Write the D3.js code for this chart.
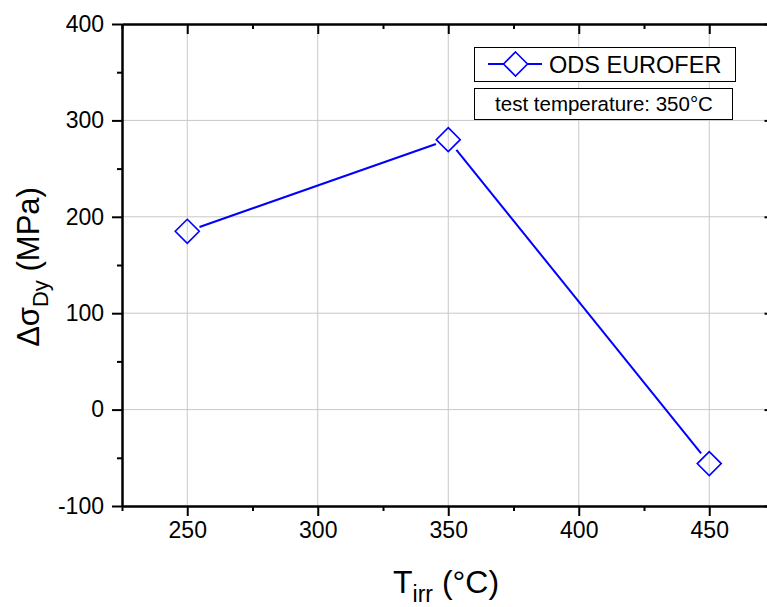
<!DOCTYPE html>
<html>
<head>
<meta charset="utf-8">
<script src="https://cdn.jsdelivr.net/npm/d3@7/dist/d3.min.js"></script>
<style>
  html, body { margin: 0; padding: 0; background: #fff; }
  svg { display: block; }
  text { font-family: "Liberation Sans", Arial, sans-serif; fill: #000; }
</style>
</head>
<body>
<svg id="chart" width="767" height="607"></svg>
<script>
// Irradiation temperature (°C) and yield stress increase (MPa)
const tIrr = [250, 350, 450];
const deltaSigma = [185, 280, -56];
const seriesName = "ODS EUROFER";
const noteText = "test temperature: 350°C";

const xMajor = [250, 300, 350, 400, 450];
const xMinor = [225, 275, 325, 375, 425, 475];
const yMajor = [-100, 0, 100, 200, 300, 400];
const yMinor = [-50, 50, 150, 250, 350];

const plotL = 122, plotR = 774.5, plotT = 24, plotB = 506;
const blue = "#0000ff";

const svg = d3.select("#chart");

const x = d3.scaleLinear().domain([225, 475]).range([plotL, plotR]);
const y = d3.scaleLinear().domain([-100, 400]).range([plotB, plotT]);
const plain = d => String(d);

// grid lines at major ticks
const grid = svg.append("g").attr("stroke", "#c8c8c8").attr("stroke-width", 1);
xMajor.forEach(v => grid.append("line")
  .attr("x1", x(v)).attr("x2", x(v)).attr("y1", plotT).attr("y2", plotB));
yMajor.filter(v => v > -100 && v < 400).forEach(v => grid.append("line")
  .attr("x1", plotL).attr("x2", plotR).attr("y1", y(v)).attr("y2", y(v)));

// axes
function styleAxis(g) {
  g.selectAll("path, line").attr("stroke", "#000").attr("stroke-width", 2);
  g.selectAll("text").style("font-size", "23px").style("font-family", "'Liberation Sans', Arial, sans-serif");
}

svg.append("g").attr("transform", `translate(0,${plotB})`)
  .call(d3.axisBottom(x).tickValues(xMajor).tickSize(10).tickSizeOuter(0).tickPadding(6).tickFormat(plain))
  .call(styleAxis);
svg.append("g").attr("transform", `translate(0,${plotB})`)
  .call(d3.axisBottom(x).tickValues(xMinor).tickSize(5).tickSizeOuter(0).tickFormat(""))
  .call(styleAxis);

svg.append("g").attr("transform", `translate(${plotL},0)`)
  .call(d3.axisLeft(y).tickValues(yMajor).tickSize(10).tickSizeOuter(0).tickPadding(8).tickFormat(plain))
  .call(styleAxis);
svg.append("g").attr("transform", `translate(${plotL},0)`)
  .call(d3.axisLeft(y).tickValues(yMinor).tickSize(5).tickSizeOuter(0).tickFormat(""))
  .call(styleAxis);

// mirrored top and right axes with inward ticks
svg.append("g").attr("transform", `translate(0,${plotT})`)
  .call(d3.axisBottom(x).tickValues(xMajor).tickSize(10).tickSizeOuter(0).tickFormat(""))
  .call(styleAxis);
svg.append("g").attr("transform", `translate(0,${plotT})`)
  .call(d3.axisBottom(x).tickValues(xMinor).tickSize(5).tickSizeOuter(0).tickFormat(""))
  .call(styleAxis);
svg.append("g").attr("transform", `translate(${plotR},0)`)
  .call(d3.axisLeft(y).tickValues(yMajor).tickSize(10).tickSizeOuter(0).tickFormat(""))
  .call(styleAxis);

// axis titles
const xt = svg.append("text")
  .attr("x", 393).attr("y", 593)
  .style("font-size", "32px");
xt.append("tspan").text("T");
xt.append("tspan").attr("dy", 9).style("font-size", "23px").text("irr");
xt.append("tspan").attr("dy", -9).text(" (°C)");

const yt = svg.append("text")
  .attr("transform", `translate(39,${(plotT + plotB) / 2 + 2}) rotate(-90)`)
  .attr("text-anchor", "middle")
  .style("font-size", "31px");
yt.append("tspan").text("Δσ");
yt.append("tspan").attr("dy", 9).style("font-size", "22px").text("Dy");
yt.append("tspan").attr("dy", -9).text(" (MPa)");

// data line, segments stop short of the markers
const pts = tIrr.map((t, i) => [x(t), y(deltaSigma[i])]);
const gap = 13;
const lineG = svg.append("g");
for (let i = 0; i < pts.length - 1; i++) {
  const [x1, y1] = pts[i], [x2, y2] = pts[i + 1];
  const dx = x2 - x1, dy = y2 - y1, len = Math.hypot(dx, dy);
  const ux = dx / len, uy = dy / len;
  lineG.append("line")
    .attr("x1", x1 + ux * gap).attr("y1", y1 + uy * gap)
    .attr("x2", x2 - ux * gap).attr("y2", y2 - uy * gap)
    .attr("stroke", blue).attr("stroke-width", 2);
}

// open diamond markers
const diamond = r => `M0,${-r}L${r},0L0,${r}L${-r},0Z`;
svg.append("g").selectAll("path").data(tIrr).join("path")
  .attr("transform", (d, i) => `translate(${x(d)},${y(deltaSigma[i])})`)
  .attr("d", diamond(12))
  .attr("fill", "none").attr("stroke", blue).attr("stroke-width", 1.6);

// legend
const lg = svg.append("g");
lg.append("rect").attr("x", 474.5).attr("y", 47.5).attr("width", 261).attr("height", 34)
  .attr("fill", "#fff").attr("stroke", "#000").attr("stroke-width", 1);
lg.append("line").attr("x1", 488).attr("x2", 542).attr("y1", 64).attr("y2", 64)
  .attr("stroke", blue).attr("stroke-width", 2);
lg.append("path").attr("transform", "translate(515.5,64)").attr("d", diamond(12))
  .attr("fill", "#fff").attr("stroke", blue).attr("stroke-width", 1.6);
lg.append("text").attr("x", 549).attr("y", 72.5).style("font-size", "23.5px").text(seriesName);

lg.append("rect").attr("x", 474.5).attr("y", 88.5).attr("width", 258).attr("height", 31)
  .attr("fill", "#fff").attr("stroke", "#000").attr("stroke-width", 1);
lg.append("text").attr("x", 604).attr("y", 111).attr("text-anchor", "middle")
  .style("font-size", "20.5px").text(noteText);
</script>
</body>
</html>
